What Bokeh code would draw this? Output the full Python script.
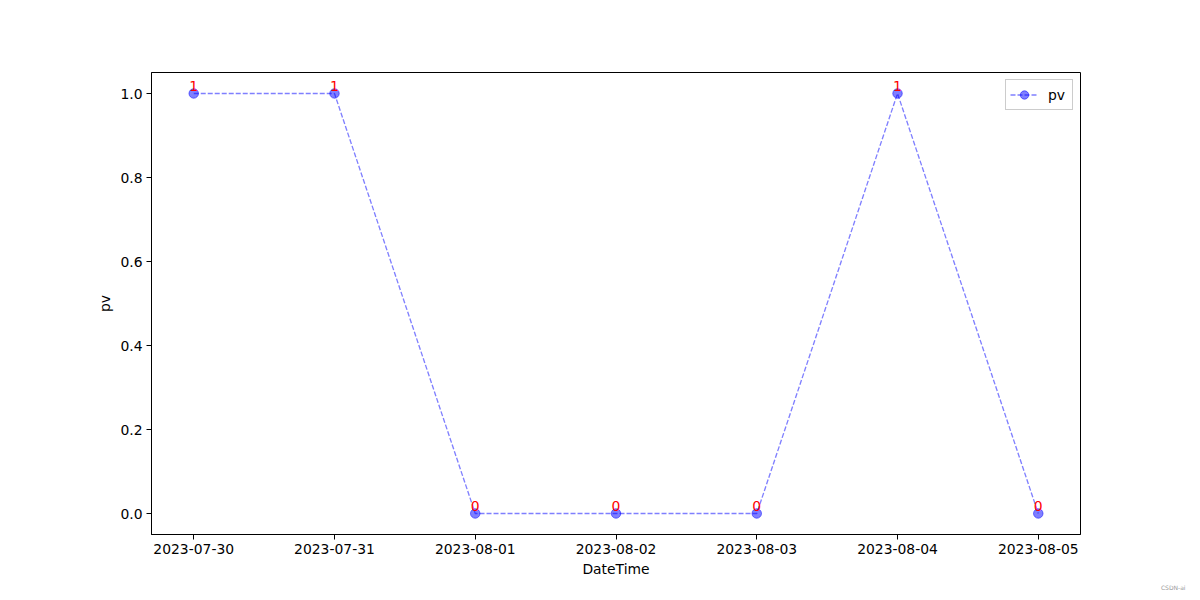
from bokeh.plotting import figure
from bokeh.models import Range1d, FixedTicker, Title, Legend, LegendItem, ColumnDataSource
from bokeh.embed import file_html
from bokeh.resources import INLINE
from bokeh.core.properties import value

dates = ["2023-07-30", "2023-07-31", "2023-08-01", "2023-08-02",
         "2023-08-03", "2023-08-04", "2023-08-05"]
pv = [1, 1, 0, 0, 0, 1, 0]

idx = list(range(len(dates)))
src = ColumnDataSource(dict(x=idx, y=pv, lbl=[str(v) for v in pv]))

FONT = "DejaVu Sans"
FS = "13.9px"

p = figure(width=1200, height=600, output_backend="svg", toolbar_location=None,
           x_range=Range1d(-0.3, len(dates) - 1 + 0.3), y_range=Range1d(-0.05, 1.05),
           min_border_left=151, min_border_right=120, min_border_top=72, min_border_bottom=66)

p.xgrid.visible = False
p.ygrid.visible = False
p.outline_line_color = "black"
p.outline_line_width = 1
p.background_fill_color = "white"
p.border_fill_color = "white"

ln = p.line("x", "y", source=src, line_color="blue", line_alpha=0.5, line_width=1.33,
            line_dash="5 2")
sc = p.scatter("x", "y", source=src, size=9.5, fill_color="blue", fill_alpha=0.5,
               line_color="blue", line_alpha=0.5)
p.text("x", "y", text="lbl", source=src, text_color="red", text_align="center",
       text_baseline="middle", text_font=value(FONT), text_font_size=FS, y_offset=-8)

p.xaxis.ticker = FixedTicker(ticks=idx)
p.xaxis.major_label_overrides = {i: d for i, d in zip(idx, dates)}
p.yaxis.ticker = FixedTicker(ticks=[0.0, 0.2, 0.4, 0.6, 0.8, 1.0])
p.yaxis.major_label_overrides = {0.0: "0.0", 0.2: "0.2", 0.4: "0.4", 0.6: "0.6",
                                 0.8: "0.8", 1.0: "1.0"}
p.xaxis.axis_label = "DateTime"
p.yaxis.axis_label = "pv"
for ax in (p.xaxis, p.yaxis):
    ax.minor_tick_line_color = None
    ax.major_tick_in = 0
    ax.major_tick_out = 5
    ax.major_tick_line_color = "black"
    ax.axis_line_color = "black"
    ax.major_label_text_font = FONT
    ax.major_label_text_font_size = FS
    ax.major_label_text_color = "black"
    ax.axis_label_text_font = FONT
    ax.axis_label_text_font_size = FS
    ax.axis_label_text_font_style = "normal"
    ax.axis_label_text_color = "black"
    ax.major_label_standoff = 4
    ax.axis_label_standoff = 4

legend = Legend(items=[LegendItem(label="pv", renderers=[ln, sc])],
                location="top_right")
legend.margin = 7
legend.padding = 4
legend.label_text_font = FONT
legend.label_text_font_size = FS
legend.label_text_color = "black"
legend.border_line_color = "#cccccc"
legend.border_line_alpha = 1
legend.glyph_width = 28
legend.glyph_height = 21
legend.label_height = 21
legend.label_standoff = 10
legend.spacing = 0
p.add_layout(legend)

wm = Title(text="CSDN-ai", align="right", text_font=FONT, text_font_size="6px",
           text_color="#999999", text_font_style="normal", standoff=4, offset=-105)
p.add_layout(wm, "below")

open("out.html", "w").write(file_html(p, INLINE))
